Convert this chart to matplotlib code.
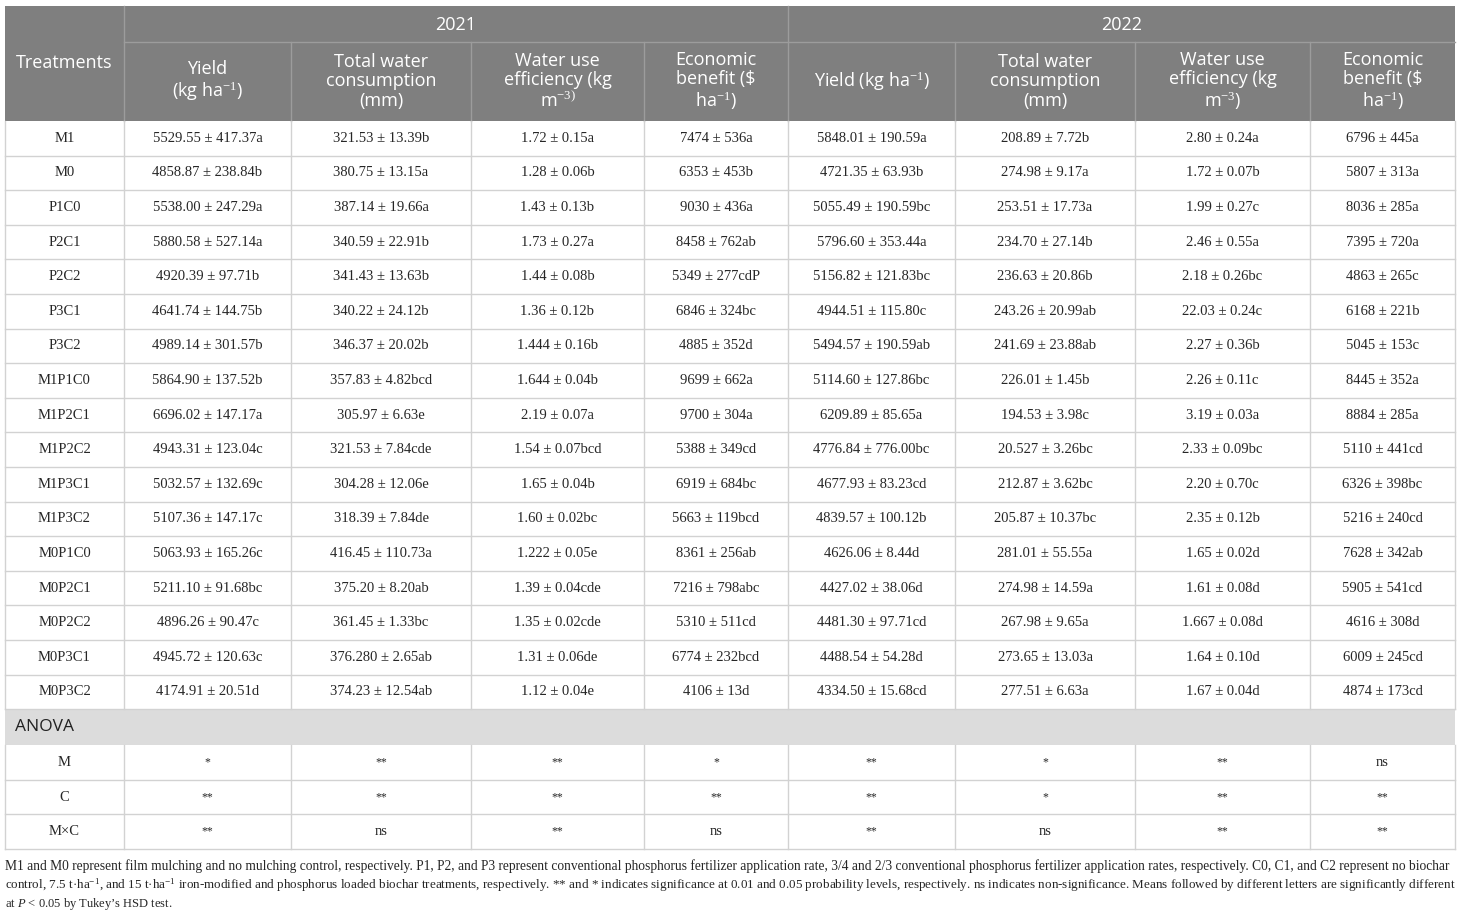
import matplotlib
matplotlib.use("Agg")
import matplotlib.pyplot as plt
from matplotlib.patches import Rectangle

plt.rcParams['mathtext.fontset'] = 'custom'
plt.rcParams['mathtext.rm'] = 'Open Sans'
plt.rcParams['mathtext.it'] = 'Open Sans:italic'

# ---- data ----
treatments = ["M1", "M0", "P1C0", "P2C1", "P2C2", "P3C1", "P3C2", "M1P1C0", "M1P2C1",
              "M1P2C2", "M1P3C1", "M1P3C2", "M0P1C0", "M0P2C1", "M0P2C2", "M0P3C1", "M0P3C2"]

yield_2021 = ["5529.55 ± 417.37a", "4858.87 ± 238.84b", "5538.00 ± 247.29a", "5880.58 ± 527.14a",
              "4920.39 ± 97.71b", "4641.74 ± 144.75b", "4989.14 ± 301.57b", "5864.90 ± 137.52b",
              "6696.02 ± 147.17a", "4943.31 ± 123.04c", "5032.57 ± 132.69c", "5107.36 ± 147.17c",
              "5063.93 ± 165.26c", "5211.10 ± 91.68bc", "4896.26 ± 90.47c", "4945.72 ± 120.63c",
              "4174.91 ± 20.51d"]
water_2021 = ["321.53 ± 13.39b", "380.75 ± 13.15a", "387.14 ± 19.66a", "340.59 ± 22.91b",
              "341.43 ± 13.63b", "340.22 ± 24.12b", "346.37 ± 20.02b", "357.83 ± 4.82bcd",
              "305.97 ± 6.63e", "321.53 ± 7.84cde", "304.28 ± 12.06e", "318.39 ± 7.84de",
              "416.45 ± 110.73a", "375.20 ± 8.20ab", "361.45 ± 1.33bc", "376.280 ± 2.65ab",
              "374.23 ± 12.54ab"]
wue_2021 = ["1.72 ± 0.15a", "1.28 ± 0.06b", "1.43 ± 0.13b", "1.73 ± 0.27a", "1.44 ± 0.08b",
            "1.36 ± 0.12b", "1.444 ± 0.16b", "1.644 ± 0.04b", "2.19 ± 0.07a", "1.54 ± 0.07bcd",
            "1.65 ± 0.04b", "1.60 ± 0.02bc", "1.222 ± 0.05e", "1.39 ± 0.04cde", "1.35 ± 0.02cde",
            "1.31 ± 0.06de", "1.12 ± 0.04e"]
benefit_2021 = ["7474 ± 536a", "6353 ± 453b", "9030 ± 436a", "8458 ± 762ab", "5349 ± 277cdP",
                "6846 ± 324bc", "4885 ± 352d", "9699 ± 662a", "9700 ± 304a", "5388 ± 349cd",
                "6919 ± 684bc", "5663 ± 119bcd", "8361 ± 256ab", "7216 ± 798abc", "5310 ± 511cd",
                "6774 ± 232bcd", "4106 ± 13d"]
yield_2022 = ["5848.01 ± 190.59a", "4721.35 ± 63.93b", "5055.49 ± 190.59bc", "5796.60 ± 353.44a",
              "5156.82 ± 121.83bc", "4944.51 ± 115.80c", "5494.57 ± 190.59ab", "5114.60 ± 127.86bc",
              "6209.89 ± 85.65a", "4776.84 ± 776.00bc", "4677.93 ± 83.23cd", "4839.57 ± 100.12b",
              "4626.06 ± 8.44d", "4427.02 ± 38.06d", "4481.30 ± 97.71cd", "4488.54 ± 54.28d",
              "4334.50 ± 15.68cd"]
water_2022 = ["208.89 ± 7.72b", "274.98 ± 9.17a", "253.51 ± 17.73a", "234.70 ± 27.14b",
              "236.63 ± 20.86b", "243.26 ± 20.99ab", "241.69 ± 23.88ab", "226.01 ± 1.45b",
              "194.53 ± 3.98c", "20.527 ± 3.26bc", "212.87 ± 3.62bc", "205.87 ± 10.37bc",
              "281.01 ± 55.55a", "274.98 ± 14.59a", "267.98 ± 9.65a", "273.65 ± 13.03a",
              "277.51 ± 6.63a"]
wue_2022 = ["2.80 ± 0.24a", "1.72 ± 0.07b", "1.99 ± 0.27c", "2.46 ± 0.55a", "2.18 ± 0.26bc",
            "22.03 ± 0.24c", "2.27 ± 0.36b", "2.26 ± 0.11c", "3.19 ± 0.03a", "2.33 ± 0.09bc",
            "2.20 ± 0.70c", "2.35 ± 0.12b", "1.65 ± 0.02d", "1.61 ± 0.08d", "1.667 ± 0.08d",
            "1.64 ± 0.10d", "1.67 ± 0.04d"]
benefit_2022 = ["6796 ± 445a", "5807 ± 313a", "8036 ± 285a", "7395 ± 720a", "4863 ± 265c",
                "6168 ± 221b", "5045 ± 153c", "8445 ± 352a", "8884 ± 285a", "5110 ± 441cd",
                "6326 ± 398bc", "5216 ± 240cd", "7628 ± 342ab", "5905 ± 541cd", "4616 ± 308d",
                "6009 ± 245cd", "4874 ± 173cd"]

anova_terms = ["M", "C", "M×C"]
anova_M = ["*", "**", "**", "*", "**", "*", "**", "ns"]
anova_C = ["**", "**", "**", "**", "**", "*", "**", "**"]
anova_MxC = ["**", "ns", "**", "ns", "**", "ns", "**", "**"]

years = ["2021", "2022"]
sub_headers_2021 = ["Yield\n(kg ha$^{-1}$)", "Total water\nconsumption\n(mm)",
                    "Water use\nefficiency (kg\nm$^{-3)}$", "Economic\nbenefit (\\$\nha$^{-1}$)"]
sub_headers_2022 = ["Yield (kg ha$^{-1}$)", "Total water\nconsumption\n(mm)",
                    "Water use\nefficiency (kg\nm$^{-3}$)", "Economic\nbenefit (\\$\nha$^{-1}$)"]

footnote = [
    "M1 and M0 represent film mulching and no mulching control, respectively. P1, P2, and P3 represent conventional "
    "phosphorus fertilizer application rate, 3/4 and 2/3 conventional phosphorus fertilizer application rates, "
    "respectively. C0, C1, and C2 represent no biochar",
    "control, 7.5 t·ha$^{-1}$, and 15 t·ha$^{-1}$ iron-modified and phosphorus loaded biochar treatments, "
    "respectively. ** and * indicates significance at 0.01 and 0.05 probability levels, respectively. "
    "ns indicates non-significance. Means followed by different letters are significantly different",
    "at $P$ < 0.05 by Tukey\u2019s HSD test.",
]

data_cols = [yield_2021, water_2021, wue_2021, benefit_2021,
             yield_2022, water_2022, wue_2022, benefit_2022]
anova_rows = [anova_M, anova_C, anova_MxC]

# ---- layout (pixel coords) ----
W, H = 1460, 911
col_x = [5, 124, 291, 471, 644, 788, 955, 1135, 1310, 1455]
y_top, y_mid, y_head = 6, 42, 121
row_h = 34.6
n_data = len(treatments)
y_data_end = y_head + n_data * row_h
y_anova_end = y_data_end + 36
y_end = y_anova_end + 3 * row_h

head_grey = "#7f7f7f"
line_col = "#d2d2d2"
txt_col = "#262626"
serif = "Liberation Serif"
sans = "Open Sans"

fig = plt.figure(figsize=(W / 100, H / 100), dpi=100)
ax = fig.add_axes([0, 0, 1, 1])
ax.set_xlim(0, W)
ax.set_ylim(H, 0)
ax.axis("off")

# header block
ax.add_patch(Rectangle((col_x[0], y_top), col_x[-1] - col_x[0], y_head - y_top,
                       facecolor=head_grey, edgecolor="none"))
ax.plot([col_x[1], col_x[-1]], [y_mid, y_mid], color="#9c9c9c", lw=1)
ax.plot([col_x[1], col_x[1]], [y_top, y_head], color="#9c9c9c", lw=1)
ax.plot([col_x[5], col_x[5]], [y_top, y_head], color="#9c9c9c", lw=1)
for i in [2, 3, 4, 6, 7, 8]:
    ax.plot([col_x[i], col_x[i]], [y_mid, y_head], color="#9c9c9c", lw=1)

ax.text((col_x[0] + col_x[1]) / 2, (y_top + y_head) / 2, "Treatments", color="white",
        ha="center", va="center", fontsize=13, family=sans)
for k, yr in enumerate(years):
    ax.text((col_x[1 + 4 * k] + col_x[5 + 4 * k]) / 2, (y_top + y_mid) / 2 + 1, yr, color="white",
            ha="center", va="center", fontsize=13, family=sans)
for k, lab in enumerate(sub_headers_2021 + sub_headers_2022):
    ax.text((col_x[k + 1] + col_x[k + 2]) / 2, (y_mid + y_head) / 2, lab, color="white",
            ha="center", va="center", fontsize=13, family=sans, linespacing=1.1)

# data rows
for r in range(n_data):
    yc = y_head + (r + 0.5) * row_h
    ax.text((col_x[0] + col_x[1]) / 2, yc, treatments[r], ha="center", va="center",
            fontsize=10.5, family=serif, color=txt_col)
    for c, col in enumerate(data_cols):
        ax.text((col_x[c + 1] + col_x[c + 2]) / 2, yc, col[r], ha="center", va="center",
                fontsize=10.5, family=serif, color=txt_col)
    ax.plot([col_x[0], col_x[-1]], [y_head + (r + 1) * row_h] * 2, color=line_col, lw=1)

for x in col_x:
    ax.plot([x, x], [y_head, y_data_end], color=line_col, lw=1)

# ANOVA band
ax.add_patch(Rectangle((col_x[0], y_data_end), col_x[-1] - col_x[0], y_anova_end - y_data_end,
                       facecolor="#dcdcdc", edgecolor="none"))
ax.text(col_x[0] + 10, (y_data_end + y_anova_end) / 2, "ANOVA", ha="left", va="center",
        fontsize=12.5, family=sans, color="#222222")

for r, term in enumerate(anova_terms):
    yc = y_anova_end + (r + 0.5) * row_h
    ax.text((col_x[0] + col_x[1]) / 2, yc, term, ha="center", va="center",
            fontsize=10.5, family=serif, color=txt_col)
    for c, val in enumerate(anova_rows[r]):
        ax.text((col_x[c + 1] + col_x[c + 2]) / 2, yc, val, ha="center", va="center",
                fontsize=10.5 if val == "ns" else 8.5, family=serif, color=txt_col)
    ax.plot([col_x[0], col_x[-1]], [y_anova_end + (r + 1) * row_h] * 2, color=line_col, lw=1)
for x in col_x:
    ax.plot([x, x], [y_anova_end, y_end], color=line_col, lw=1)

# footnote, first two lines stretched to table width
plt.rcParams['mathtext.rm'] = serif
plt.rcParams['mathtext.it'] = serif + ':italic'
renderer = fig.canvas.get_renderer()
foot_y = [866, 885, 904]
target = col_x[-1] - col_x[0] - 4
for i, line in enumerate(footnote):
    t = ax.text(col_x[0], foot_y[i], line, ha="left", va="center", fontsize=9,
                family=serif, color=txt_col)
    if i < 2:
        for _ in range(3):
            w = t.get_window_extent(renderer).width
            t.set_fontsize(t.get_fontsize() * target / w)

fig.savefig("out.png", dpi=100)
